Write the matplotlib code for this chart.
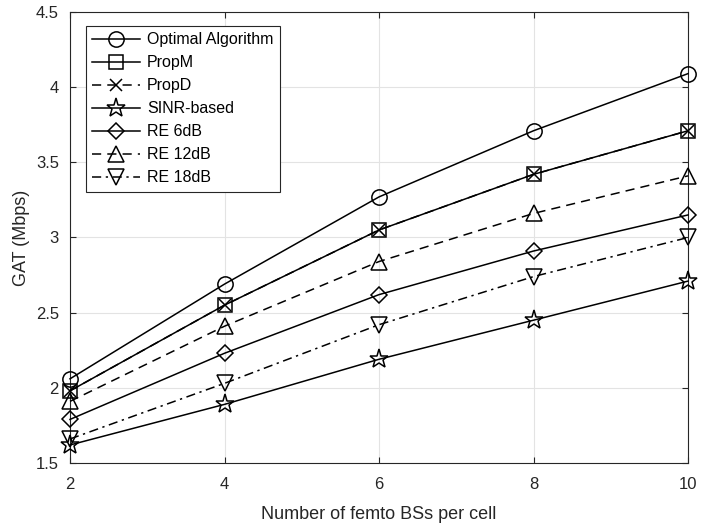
import matplotlib

matplotlib.use("Agg")
import matplotlib.pyplot as plt

plt.rcParams["font.family"] = ["Liberation Sans", "DejaVu Sans"]

femto_bs = [2, 4, 6, 8, 10]

optimal = [2.06, 2.69, 3.27, 3.71, 4.09]
prop_m = [1.98, 2.55, 3.05, 3.42, 3.71]
prop_d = [1.98, 2.55, 3.05, 3.42, 3.71]
sinr_based = [1.62, 1.89, 2.19, 2.45, 2.71]
re_6db = [1.79, 2.23, 2.62, 2.91, 3.15]
re_12db = [1.91, 2.41, 2.84, 3.16, 3.41]
re_18db = [1.66, 2.03, 2.42, 2.74, 3.00]

dashed = (0, (6, 4))
dashdot = (0, (6, 3, 1.5, 3))
series = [
    ("Optimal Algorithm", optimal, "o", "-"),
    ("PropM", prop_m, "s", "-"),
    ("PropD", prop_d, "x", dashed),
    ("SINR-based", sinr_based, "*", "-"),
    ("RE 6dB", re_6db, "D", "-"),
    ("RE 12dB", re_12db, "^", dashed),
    ("RE 18dB", re_18db, "v", dashdot),
]

fig = plt.figure(figsize=(7.03, 5.30), dpi=100)
ax = fig.add_axes([0.0996, 0.1264, 0.8791, 0.851])

for label, vals, marker, ls in series:
    ms = 11
    if marker == "D":
        ms = 8
    elif marker == "*":
        ms = 14
    elif marker == "x":
        ms = 9
    elif marker == "s":
        ms = 10
    ax.plot(femto_bs, vals, color="black", linestyle=ls, linewidth=1.1,
            marker=marker, markersize=ms, markerfacecolor="none",
            markeredgecolor="black", markeredgewidth=1.1, label=label,
            clip_on=False, zorder=3)

ax.set_xlim(2, 10)
ax.set_ylim(1.5, 4.5)
ax.set_xticks([2, 4, 6, 8, 10])
ax.set_yticks([1.5, 2, 2.5, 3, 3.5, 4, 4.5])
ax.set_yticklabels(["1.5", "2", "2.5", "3", "3.5", "4", "4.5"])
ax.grid(True, color="#e3e3e3", linewidth=0.8)
ax.set_axisbelow(True)
ax.tick_params(direction="in", labelsize=12, colors="#262626", length=4,
               top=True, right=True)
ax.tick_params(axis="x", pad=10)
ax.tick_params(axis="y", pad=8)
for sp in ax.spines.values():
    sp.set_color("#262626")
    sp.set_linewidth(0.8)

ax.set_xlabel("Number of femto BSs per cell", fontsize=13, color="#262626",
              labelpad=10)
ax.set_ylabel("GAT (Mbps)", fontsize=13, color="#262626", labelpad=4)

leg = ax.legend(loc="upper left", bbox_to_anchor=(0.026, 0.969), fontsize=11.5,
                handlelength=3.0, handletextpad=0.4, labelspacing=0.5,
                borderpad=0.4, borderaxespad=0, fancybox=False, framealpha=1)
leg.get_frame().set_edgecolor("#262626")
leg.get_frame().set_linewidth(0.8)

fig.savefig("out.png", dpi=100)
